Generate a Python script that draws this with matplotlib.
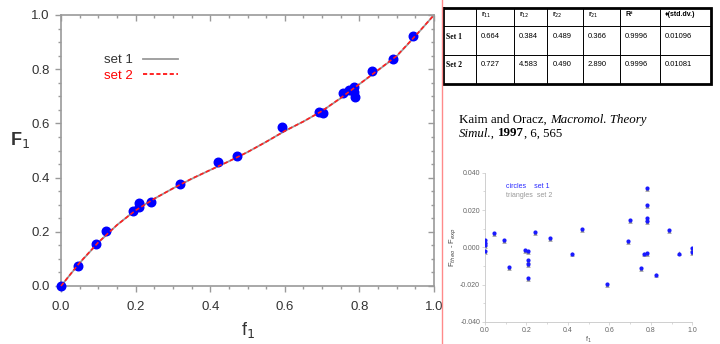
import numpy as np
import matplotlib.pyplot as plt
from matplotlib.ticker import MultipleLocator, FormatStrFormatter
from matplotlib.lines import Line2D

# composition data, main plot (f1 feed, F1 copolymer)
f1_exp = [0.0, 0.045, 0.095, 0.121, 0.194, 0.208, 0.21, 0.241, 0.319, 0.422, 0.473,
          0.592, 0.692, 0.703, 0.757, 0.773, 0.785, 0.785, 0.787, 0.833, 0.891, 0.945]
F1_exp = [0.0, 0.075, 0.156, 0.204, 0.277, 0.306, 0.292, 0.31, 0.376, 0.459, 0.481,
          0.588, 0.643, 0.637, 0.711, 0.723, 0.733, 0.717, 0.699, 0.793, 0.838, 0.922]

# fitted curves
f1_fit = [0.0, 0.05, 0.1, 0.15, 0.2, 0.25, 0.3, 0.35, 0.4, 0.45, 0.5, 0.55, 0.6,
          0.65, 0.7, 0.75, 0.8, 0.85, 0.9, 0.95, 1.0]
F1_set1 = [0.0, 0.085, 0.16, 0.225, 0.28, 0.322, 0.36, 0.395, 0.428, 0.46, 0.494,
           0.532, 0.572, 0.607, 0.646, 0.693, 0.745, 0.796, 0.848, 0.922, 1.0]
F1_set2 = [0.0, 0.086, 0.161, 0.225, 0.279, 0.322, 0.36, 0.396, 0.428, 0.46, 0.494,
           0.532, 0.572, 0.607, 0.646, 0.694, 0.745, 0.797, 0.849, 0.923, 1.0]

# residuals for inset
f1_res = [0.0, 0.0, 0.0, 0.0, 0.043, 0.093, 0.117, 0.193, 0.206, 0.207, 0.207, 0.207,
          0.24, 0.315, 0.418, 0.469, 0.587, 0.688, 0.698, 0.751, 0.768, 0.781,
          0.783, 0.783, 0.783, 0.783, 0.825, 0.886, 0.937, 0.997, 0.997]
res_set1 = [0.0041, 0.0025, 0.0013, -0.0020, 0.0076, 0.0038, -0.0106, -0.0014, -0.0022,
            -0.0068, -0.0088, -0.0164, 0.0081, 0.0049, -0.0034, 0.0097, -0.0198, 0.0034,
            0.0148, -0.0110, -0.0034, -0.0029, 0.0317, 0.0229, 0.0155, 0.0142, -0.0146,
            0.0094, -0.0038, -0.0005, -0.0023]
res_set2 = [0.0036, 0.0020, 0.0008, -0.0025, 0.0072, 0.0034, -0.0110, -0.0019, -0.0027,
            -0.0073, -0.0093, -0.0168, 0.0077, 0.0045, -0.0038, 0.0093, -0.0202, 0.0030,
            0.0143, -0.0114, -0.0038, -0.0033, 0.0312, 0.0224, 0.0150, 0.0137, -0.0150,
            0.0090, -0.0028, -0.0010, -0.0028]

# table
col_labels = ['', 'r$_{11}$', 'r$_{12}$', 'r$_{22}$', 'r$_{21}$', 'R²', '♦(std.dv.)']
row_set1 = ['Set 1', '0.664', '0.384', '0.489', '0.366', '0.9996', '0.01096']
row_set2 = ['Set 2', '0.727', '4.583', '0.490', '2.890', '0.9996', '0.01081']

W, H = 720, 344
fig = plt.figure(figsize=(7.2, 3.44), dpi=100)
plt.rcParams['font.family'] = ['Liberation Sans', 'DejaVu Sans']
grey = '#9a9a9a'
txt = '#333333'
rect = [61 / W, 1 - 286 / H, 373 / W, 271 / H]

# ---- main plot
ax = fig.add_axes(rect)
ax.plot(f1_fit, F1_set1, color=grey, lw=1.3, zorder=2)
ax.scatter(f1_exp, F1_exp, s=38, color='#0000ff', zorder=3, clip_on=False)
ax.plot(f1_fit, F1_set2, color='#ff2020', lw=1.2, ls=(0, (2.5, 1.5)), zorder=4, clip_on=False)
ax.set_xlim(0, 1)
ax.set_ylim(0, 1)
for s in ax.spines.values():
    s.set_color(grey)
    s.set_linewidth(1.2)
for a in (ax.xaxis, ax.yaxis):
    a.set_major_locator(MultipleLocator(0.2))
    a.set_minor_locator(MultipleLocator(0.05))
    a.set_major_formatter(FormatStrFormatter('%.1f'))
ax.tick_params(which='major', direction='out', length=4, width=1, color=grey,
               labelsize=9.5, labelcolor=txt)
ax.tick_params(axis='x', which='major', pad=6.5)
ax.tick_params(axis='y', which='major', pad=4)
ax.tick_params(which='minor', direction='out', length=2.5, width=1, color=grey)

# inward ticks on top and right
ax2 = fig.add_axes(rect, sharex=ax, sharey=ax)
ax2.patch.set_visible(False)
for s in ax2.spines.values():
    s.set_visible(False)
ax2.tick_params(which='both', left=False, bottom=False, top=True, right=True,
                labelleft=False, labelbottom=False, direction='in', color=grey, width=1)
ax2.tick_params(which='major', length=4)
ax2.tick_params(which='minor', length=2.5)

ax.set_xlabel('f$_1$', fontsize=13, color=txt)
ax.xaxis.set_label_coords((248 - 61) / 373, -(320 - 286) / 271)
ax.set_ylabel('F$_1$', fontsize=13, color=txt, rotation=0, fontweight='bold')
ax.yaxis.set_label_coords(-(61 - 20) / 373, (286 - 150) / 271)

handles = [Line2D([], [], color=grey, lw=1.3), Line2D([], [], color='red', lw=1.2, ls=(0, (2.5, 1.5)))]
ax.legend(handles, ['set 1', 'set 2'], markerfirst=False, frameon=False, fontsize=9.5,
          labelcolor=[txt, 'red'], handlelength=2.6, handletextpad=0.8, labelspacing=0.25,
          loc='upper left', bbox_to_anchor=((104 - 61) / 373, (286 - 54) / 271), borderaxespad=0,
          borderpad=0)

# ---- red separator
fig.add_artist(Line2D([442 / W, 442 / W], [0, 1], color='#ff8a8a', lw=1))

# ---- table
tax = fig.add_axes([442.7 / W, 1 - 84 / H, (710.7 - 442.7) / W, (84 - 8.3) / H])
tax.set_xlim(442.7, 710.7)
tax.set_ylim(84, 8.3)
tax.axis('off')
xs = [442.7, 476, 514, 547.3, 582.7, 620, 660, 710.7]
ys = [8.3, 25.7, 55.3, 84]
for x in xs[1:-1]:
    tax.plot([x, x], [ys[0], ys[-1]], color='black', lw=0.7)
for y in ys[1:-1]:
    tax.plot([xs[0], xs[-1]], [y, y], color='black', lw=0.7)
tax.plot([xs[0], xs[-1], xs[-1], xs[0], xs[0]], [ys[0], ys[0], ys[-1], ys[-1], ys[0]],
         color='black', lw=2, clip_on=False, solid_joinstyle='miter')
for j, lab in enumerate(col_labels):
    tax.text(xs[j] + 5, 15, lab, fontsize=5, va='center', ha='left', fontweight='bold')
for row, yc in ((row_set1, 37), (row_set2, 65)):
    for j, v in enumerate(row):
        if j == 0:
            tax.text(xs[j] + 3.5, yc, v, fontsize=5.5, va='center', ha='left',
                     family='Liberation Serif', fontweight='bold')
        else:
            tax.text(xs[j] + 5, yc, v, fontsize=5.5, va='center', ha='left')

# ---- citation, pieced together run by run
def run(x, y, s, **kw):
    t = fig.text(x / W, 1 - y / H, s, fontsize=9.3, family='Liberation Serif',
                 va='center', ha='left', **kw)
    fig.canvas.draw()
    return t.get_window_extent().x1

x = run(459, 119.5, 'Kaim and Oracz, ')
run(x, 119.5, 'Macromol. Theory', style='italic')
x = run(459, 133.5, 'Simul.,', style='italic')
x = run(x + 3, 133.5, '1997', fontweight='bold')
run(x, 133.5, ', 6, 565')

# ---- residual inset
iax = fig.add_axes([485 / W, 1 - 322 / H, 207.3 / W, 149.3 / H])
iax.scatter(f1_res, res_set2, marker='^', s=10, color='#8a8a8a', zorder=2, linewidths=0)
iax.scatter(f1_res, res_set1, marker='o', s=9, color='#1a1aff', zorder=3, linewidths=0)
iax.set_xlim(0, 1)
iax.set_ylim(-0.04, 0.04)
iax.spines['top'].set_visible(False)
iax.spines['right'].set_visible(False)
for s in ('left', 'bottom'):
    iax.spines[s].set_color('#c8c8c8')
    iax.spines[s].set_linewidth(0.6)
iax.xaxis.set_major_locator(MultipleLocator(0.2))
iax.xaxis.set_minor_locator(MultipleLocator(0.1))
iax.yaxis.set_major_locator(MultipleLocator(0.02))
iax.yaxis.set_minor_locator(MultipleLocator(0.01))
iax.xaxis.set_major_formatter(FormatStrFormatter('%.1f'))
iax.yaxis.set_major_formatter(FormatStrFormatter('%.3f'))
iax.tick_params(which='both', direction='out', color='#c8c8c8', width=0.5,
                labelsize=5, labelcolor='#666666', pad=1.5)
iax.tick_params(which='major', length=2)
iax.tick_params(which='minor', length=1.2)
iax.set_xlabel('f$_1$', fontsize=5, color='#555555')
iax.xaxis.set_label_coords(0.5, -0.085)
iax.set_ylabel('F$_{theo}$ - F$_{exp}$', fontsize=5.5, color='#444444', labelpad=1)
iax.text(0.1, 0.0328, 'circles    set 1', fontsize=5, color='#2a2aff', va='center')
iax.text(0.1, 0.0280, 'triangles  set 2', fontsize=5, color='#999999', va='center')

fig.savefig('out.png', dpi=100)
